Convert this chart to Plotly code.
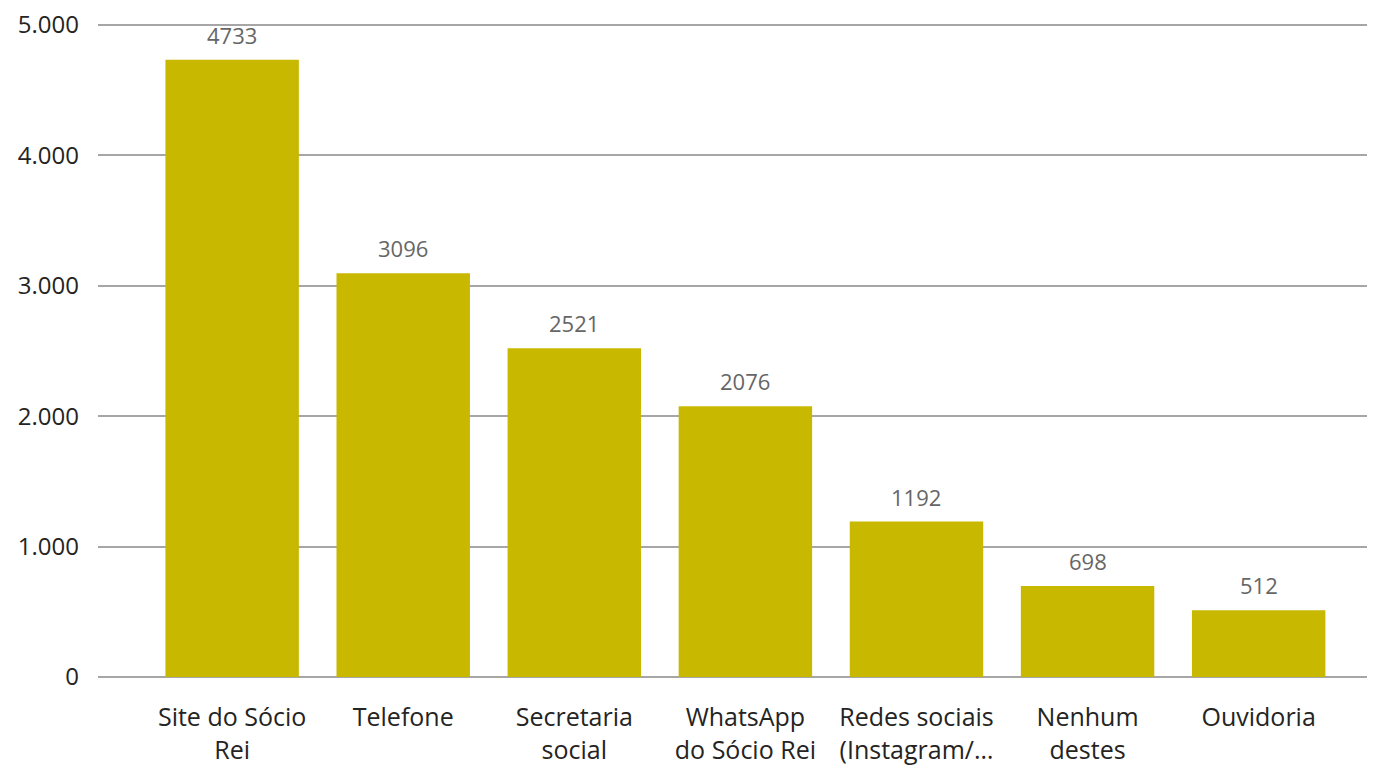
import plotly.graph_objects as go

categories = ["Site do Sócio<br>Rei", "Telefone", "Secretaria<br>social", "WhatsApp<br>do Sócio Rei",
              "Redes sociais<br>(Instagram/…", "Nenhum<br>destes", "Ouvidoria"]
values = [4733, 3096, 2521, 2076, 1192, 698, 512]
y_ticks = [0, 1000, 2000, 3000, 4000, 5000]
y_tick_labels = ["0", "1.000", "2.000", "3.000", "4.000", "5.000"]

xs = list(range(len(categories)))
fig = go.Figure(go.Bar(
    x=xs,
    y=values,
    marker=dict(color="#C9B800", line=dict(width=0)),
    width=0.78,
))

for x, v in zip(xs, values):
    fig.add_annotation(x=x, y=v, text=str(v), showarrow=False, yanchor="bottom",
                       yshift=8, font=dict(family="Open Sans", size=22, color="#666666"))

fig.update_layout(
    width=1375, height=767,
    margin=dict(l=90, r=8, t=15, b=98),
    plot_bgcolor="white", paper_bgcolor="white",
    showlegend=False,
    font=dict(family="Open Sans", size=24, color="#252423"),
)
fig.update_xaxes(
    tickmode="array", tickvals=xs, ticktext=categories,
    range=[-0.784, 6.68], showgrid=False, showline=False, zeroline=False,
    ticks="", tickfont=dict(size=25, color="#252423"), automargin=False,
    ticklabelstandoff=23, ticklabeloverflow="allow",
)
fig.update_yaxes(
    range=[0, 5015], tickmode="array", tickvals=y_ticks, ticktext=y_tick_labels,
    showgrid=True, gridcolor="#A6A6A6", gridwidth=1.5,
    zeroline=True, zerolinecolor="#A6A6A6", zerolinewidth=1.5,
    showline=False, ticks="", ticklabelstandoff=18, automargin=False,
    ticklabeloverflow="allow",
    tickfont=dict(size=24, color="#252423"),
)

fig.write_html("out.html")
